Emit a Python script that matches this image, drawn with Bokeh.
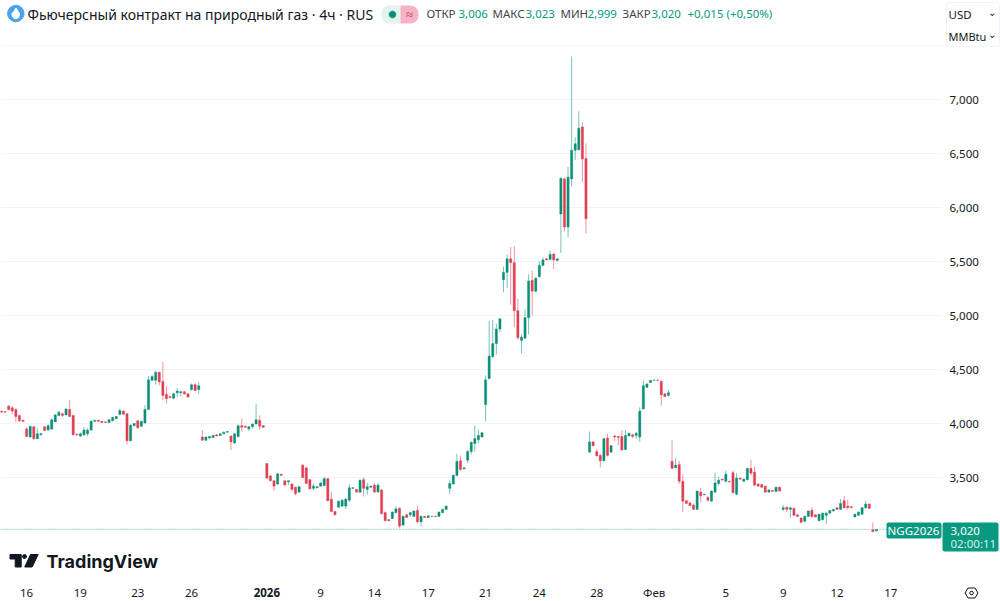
import math
from bokeh.plotting import figure
from bokeh.embed import file_html
from bokeh.resources import INLINE
from bokeh.models import (Label, BoxAnnotation, PolyAnnotation, FixedTicker, Range1d,
                          LinearAxis, NumeralTickFormatter)

opens = [4115,4110,4160,4145,4130,4075,4030,3950,3875,3970,
 3860,3895,3970,3940,3950,4015,4075,4090,4080,4130,
 4075,3900,3885,3895,3905,3940,4020,4030,4020,4015,
 4010,4025,4045,4085,4115,4090,3840,3980,4025,3975,
 4005,4130,4400,4400,4475,4390,4270,4250,4235,4285,
 4285,4295,4275,4315,4360,4315,3875,3845,3865,3870,
 3895,3890,3905,3920,3885,3820,3880,3980,3975,3950,
 3970,3995,4030,3980,3630,3515,3470,3440,3530,3470,
 3460,3440,3410,3365,3615,3590,3480,3400,3405,3420,
 3425,3490,3300,3185,3225,3235,3235,3290,3400,3390,
 3365,3480,3390,3410,3430,3365,3385,3175,3110,3120,
 3175,3215,3060,3155,3155,3140,3195,3090,3140,3130,
 3140,3142,3140,3175,3205,3400,3440,3520,3655,3580,
 3660,3740,3815,3850,3875,4175,4415,4620,4740,4875,
 5330,5400,5525,5490,5045,4770,4790,4980,5325,5225,
 5360,5465,5525,5520,5570,5510,5940,6265,5820,6265,
 6530,6535,6745,6455,3735,3830,3740,3705,3655,3865,
 3735,3885,3880,3880,3760,3885,3895,3890,3875,4135,
 4335,4380,4400,4403,4390,4275,4260,3650,3590,3620,
 3465,3285,3265,3245,3205,3365,3340,3315,3280,3365,
 3445,3485,3465,3465,3545,3345,3495,3465,3480,3585,
 3550,3440,3435,3420,3365,3380,3370,3410,3205,3225,
 3205,3215,3155,3125,3095,3140,3197,3155,3100,3110,
 3150,3170,3190,3220,3205,3285,3235,3230,3135,3150,
 3160,3220,3255,3015,3006]
closes = [4105,4105,4130,4115,4065,4025,4020,3880,3975,3860,
 3905,3905,3935,3980,4035,4080,4105,4075,4135,4065,
 3895,3895,3905,3940,3940,4020,4030,4020,4010,4010,
 4035,4055,4065,4120,4085,3840,3985,4000,3960,4020,
 4130,4405,4435,4475,4385,4260,4230,4240,4275,4300,
 4295,4275,4245,4360,4305,4350,3845,3875,3880,3890,
 3885,3905,3920,3925,3830,3905,3980,3965,3965,3970,
 3995,4035,3975,3965,3495,3470,3420,3535,3520,3430,
 3470,3390,3350,3415,3500,3445,3395,3420,3415,3450,
 3490,3285,3185,3155,3280,3290,3300,3405,3405,3365,
 3475,3400,3415,3420,3365,3430,3165,3100,3100,3180,
 3210,3050,3140,3130,3175,3190,3090,3140,3130,3145,
 3140,3138,3180,3205,3235,3445,3520,3650,3575,3590,
 3740,3825,3860,3890,3915,4405,4625,4740,4875,4970,
 5400,5525,5490,5045,4795,4800,4980,5320,5225,5345,
 5465,5515,5515,5565,5515,5525,6270,5820,6280,6530,
 6590,6735,6450,5895,3830,3795,3700,3655,3860,3705,
 3795,3875,3870,3755,3890,3910,3880,3910,4115,4350,
 4365,4400,4402,4400,4265,4250,4285,3585,3615,3465,
 3280,3260,3240,3205,3375,3330,3345,3290,3375,3450,
 3475,3478,3530,3460,3360,3495,3485,3485,3585,3540,
 3430,3420,3410,3365,3385,3372,3410,3375,3220,3205,
 3220,3150,3140,3085,3140,3190,3140,3135,3160,3170,
 3170,3195,3205,3205,3260,3220,3220,3222,3160,3180,
 3220,3255,3215,3000,3020]
highs = [4120,4115,4175,4160,4140,4080,4035,3965,3980,3975,
 3955,3915,3975,3995,4045,4090,4115,4100,4140,4215,
 4080,3910,3915,3965,3955,4030,4035,4035,4025,4020,
 4040,4060,4070,4140,4120,4095,3995,4005,4030,4025,
 4170,4440,4450,4485,4480,4570,4350,4255,4285,4330,
 4300,4300,4280,4370,4375,4385,3940,3880,3885,3895,
 3900,3910,3925,3930,3890,3915,3990,4045,3980,3975,
 4000,4185,4075,3985,3635,3520,3475,3545,3535,3475,
 3475,3445,3415,3420,3625,3595,3490,3445,3420,3455,
 3505,3495,3365,3190,3285,3300,3310,3440,3410,3395,
 3480,3500,3450,3425,3445,3450,3390,3185,3115,3185,
 3230,3225,3150,3160,3185,3195,3240,3150,3145,3150,
 3145,3145,3185,3210,3240,3475,3530,3720,3705,3595,
 3755,3835,3980,3945,3920,4445,4950,4960,4925,4975,
 5455,5565,5635,5645,5155,4825,5055,5380,5415,5355,
 5505,5540,5530,5600,5575,5530,6280,6275,6375,7400,
 6650,6890,6790,6595,3925,3835,3765,3720,3870,3905,
 3800,3895,3885,3940,3940,3915,3905,3920,4150,4400,
 4375,4405,4405,4405,4400,4280,4310,3850,3680,3655,
 3530,3290,3270,3260,3380,3405,3350,3330,3380,3545,
 3505,3490,3565,3470,3565,3540,3500,3490,3590,3665,
 3600,3445,3440,3425,3390,3385,3415,3415,3245,3230,
 3230,3220,3160,3130,3150,3195,3225,3160,3165,3175,
 3180,3200,3210,3225,3300,3330,3295,3235,3165,3185,
 3225,3285,3260,3085,3023]
lows = [4100,4100,4120,4085,4015,4015,4015,3875,3870,3850,
 3857,3890,3930,3930,3940,4015,4065,4060,4075,4060,
 3890,3885,3875,3885,3885,3930,4015,4015,4005,4005,
 4005,4020,4040,4075,4080,3805,3835,3975,3950,3965,
 4000,4130,4395,4360,4355,4215,4185,4235,4225,4245,
 4250,4265,4240,4305,4300,4275,3845,3840,3860,3865,
 3880,3885,3900,3915,3755,3810,3870,3925,3960,3930,
 3955,3995,3945,3960,3490,3465,3375,3430,3515,3425,
 3430,3370,3335,3360,3495,3440,3390,3380,3400,3415,
 3420,3280,3180,3150,3220,3230,3210,3275,3395,3360,
 3355,3325,3340,3405,3360,3365,3160,3095,3095,3115,
 3170,3030,3055,3125,3135,3135,3075,3045,3125,3125,
 3135,3135,3135,3170,3200,3350,3435,3510,3560,3575,
 3635,3715,3740,3815,3870,4020,4415,4605,4640,4845,
 5215,5255,5100,4890,4775,4650,4780,4825,5000,5215,
 5350,5455,5510,5510,5430,5505,5580,5780,5725,6195,
 6440,6530,6235,5760,3730,3790,3695,3595,3650,3695,
 3730,3835,3800,3750,3755,3880,3865,3860,3830,4130,
 4330,4375,4398,4395,4165,4245,4250,3580,3585,3440,
 3180,3255,3235,3200,3200,3270,3335,3275,3278,3355,
 3425,3470,3455,3455,3355,3335,3480,3460,3475,3520,
 3425,3415,3405,3358,3360,3368,3365,3370,3190,3180,
 3125,3145,3135,3080,3085,3135,3125,3130,3095,3100,
 3065,3160,3185,3200,3200,3215,3205,3215,3130,3145,
 3155,3210,3210,2990,2999]

price_ticks = [3500, 4000, 4500, 5000, 5500, 6000, 6500, 7000]
date_ticks = [7, 22, 38, 53, 89, 104, 119, 135, 150, 166, 182, 202, 218, 233, 248]
date_labels = ["16", "19", "23", "26", "9", "14", "17", "21", "24", "28", "Фев", "5", "9", "12", "17"]
year_tick = 74
year_label = "2026"
last_price = 3020

GREEN = "#0B8F78"
RED = "#E03E52"
TEXT = "#131722"
FONT = "Noto Sans"

X_MIN, X_MAX = -0.279, 278.6
Y_MIN, Y_MAX = 2352, 7917
AXIS_X = 262.4
AXIS_Y = 2580
TAG_X = 246.8

idx = list(range(len(opens)))
up = [i for i in idx if closes[i] >= opens[i]]
dn = [i for i in idx if closes[i] < opens[i]]

p = figure(width=1000, height=601, output_backend="svg", toolbar_location=None,
           x_range=Range1d(X_MIN, X_MAX), y_range=Range1d(Y_MIN, Y_MAX),
           min_border_left=0, min_border_right=0, min_border_top=0, min_border_bottom=0,
           x_axis_location=None, y_axis_location=None)
p.outline_line_color = None
p.background_fill_color = "white"
p.xgrid.visible = False
p.ygrid.visible = False

yaxis = LinearAxis(ticker=FixedTicker(ticks=price_ticks), formatter=NumeralTickFormatter(format="0,0"),
                   fixed_location=AXIS_X)
xaxis = LinearAxis(ticker=FixedTicker(ticks=date_ticks), fixed_location=AXIS_Y,
                   major_label_overrides={k: v for k, v in zip(date_ticks, date_labels)})
for ax in (xaxis, yaxis):
    ax.axis_line_color = None
    ax.major_tick_line_color = None
    ax.minor_tick_line_color = None
    ax.major_tick_in = 0
    ax.major_tick_out = 0
    ax.major_label_text_font = FONT
    ax.major_label_text_font_size = "11.5px"
    ax.major_label_text_color = TEXT
yaxis.major_label_standoff = 7
xaxis.major_label_standoff = 8
p.add_layout(yaxis, "right")
p.add_layout(xaxis, "below")

p.segment([X_MIN] * len(price_ticks), price_ticks, [AXIS_X] * len(price_ticks), price_ticks,
          line_color="#f0f3fa", line_width=1)
p.segment([X_MIN], [last_price], [TAG_X], [last_price], line_color="#089981", line_width=1,
          line_dash="1 2", line_alpha=0.8)

for subset, col in ((up, GREEN), (dn, RED)):
    xs = subset
    p.segment(xs, [highs[i] for i in subset], xs, [lows[i] for i in subset],
              line_color=col, line_width=1, line_alpha=0.55)
    p.vbar(xs, 0.62, [max(opens[i], closes[i]) for i in subset], [min(opens[i], closes[i]) for i in subset],
           fill_color=col, line_color=col, line_width=0.4)


def text(s, x, y, size="12px", color=TEXT, style="normal", align="left", font=FONT, x_units="canvas"):
    p.add_layout(Label(x=x, y=y, x_units=x_units, y_units="canvas", text=s, text_font=font,
                       text_font_size=size, text_color=color, text_font_style=style,
                       text_align=align, text_baseline="middle"))


def box(l, r, t, b, fill, radius=0, line=None):
    p.add_layout(BoxAnnotation(left=l, right=r, top=t, bottom=b, left_units="canvas",
                               right_units="canvas", top_units="canvas", bottom_units="canvas",
                               fill_color=fill, fill_alpha=1, line_color=line, line_alpha=1 if line else 0,
                               border_radius=radius, level="annotation"))


def poly(pts, fill, line=None, alpha=1.0):
    p.add_layout(PolyAnnotation(xs=[a for a, _ in pts], ys=[b for _, b in pts], xs_units="canvas",
                                ys_units="canvas", fill_color=fill, fill_alpha=alpha,
                                line_color=line or fill, line_alpha=1, line_width=1))


def ring(cx, cy, r, n=24):
    return [(cx + r * math.cos(2 * math.pi * k / n), cy + r * math.sin(2 * math.pi * k / n)) for k in range(n)]


# header
box(0, 1000, 45, 45.5, "#f0f3fa")
poly(ring(15.3, 13, 8.2), "#4aa3ee")
poly([(15.5, 7.5), (19, 13), (19, 15), (17.5, 17.5), (15.3, 18.3), (13, 17.5), (11.5, 15), (11.7, 12.5), (13.5, 11)], "#ffffff")
text("Фьючерсный контракт на природный газ · 4ч · RUS", 27, 14, "14px")
box(381, 400, 5, 23, "#e3f3ef", (8, 0, 0, 8))
box(400, 418, 5, 23, "#f4b4c6", (0, 8, 8, 0))
poly(ring(392, 14, 3.3), "#0B8F78")
text("≈", 409, 13, "13px", "#d6315a", align="center")

for s, x, col in (("ОТКР", 426, "#434651"), ("3,006", 458, "#089981"), ("МАКС", 492, "#434651"), ("3,023", 525, "#089981"),
                  ("МИН", 560, "#434651"), ("2,999", 587, "#089981"), ("ЗАКР", 622, "#434651"), ("3,020", 651, "#089981"),
                  ("+0,015 (+0,50%)", 687, "#089981")):
    text(s, x, 13, "11.5px", col)

box(946, 999, 2, 46, "#ffffff", 3, "#f0f3fa")
text("USD", 948, 14, "11.5px")
text("MMBtu", 948, 36, "11px")
text("⌄", 995, 11, "10px", align="right")
text("⌄", 995, 33, "10px", align="right")

# last price tag
box(886, 941, 522, 538, "#089981", 2)
box(942, 998, 522, 551, "#089981", 2)
text("NGG2026", 913, 530, "11.5px", "white", align="center")
text("3,020", 950, 530, "11.5px", "white")
text("02:00:11", 950, 543, "11.5px", "#d5efe9")

# logo
poly([(9.5, 554), (20.7, 554), (20.7, 566.5), (14.7, 566.5), (14.7, 558.5), (9.5, 558.5)], "#131722")
poly(ring(24, 556, 2), "#131722")
poly([(30, 554), (37.7, 554), (31.7, 566.5), (24.2, 566.5)], "#131722")
text("TradingView", 46, 561, "18px", "#131722", style="bold", font="Inter")

# year label, bold, placed through the x scale
text(year_label, year_tick, 592, "11.5px", style="bold", align="center", x_units="data")

# settings icon
poly([(964.5, 592.5), (967.5, 587.5), (974.5, 587.5), (977.5, 592.5), (974.5, 597.5), (967.5, 597.5)], "#ffffff", "#131722")
poly(ring(971, 592.5, 1.8, 10), "#ffffff", "#131722")

open("out.html", "w").write(file_html(p, INLINE))
